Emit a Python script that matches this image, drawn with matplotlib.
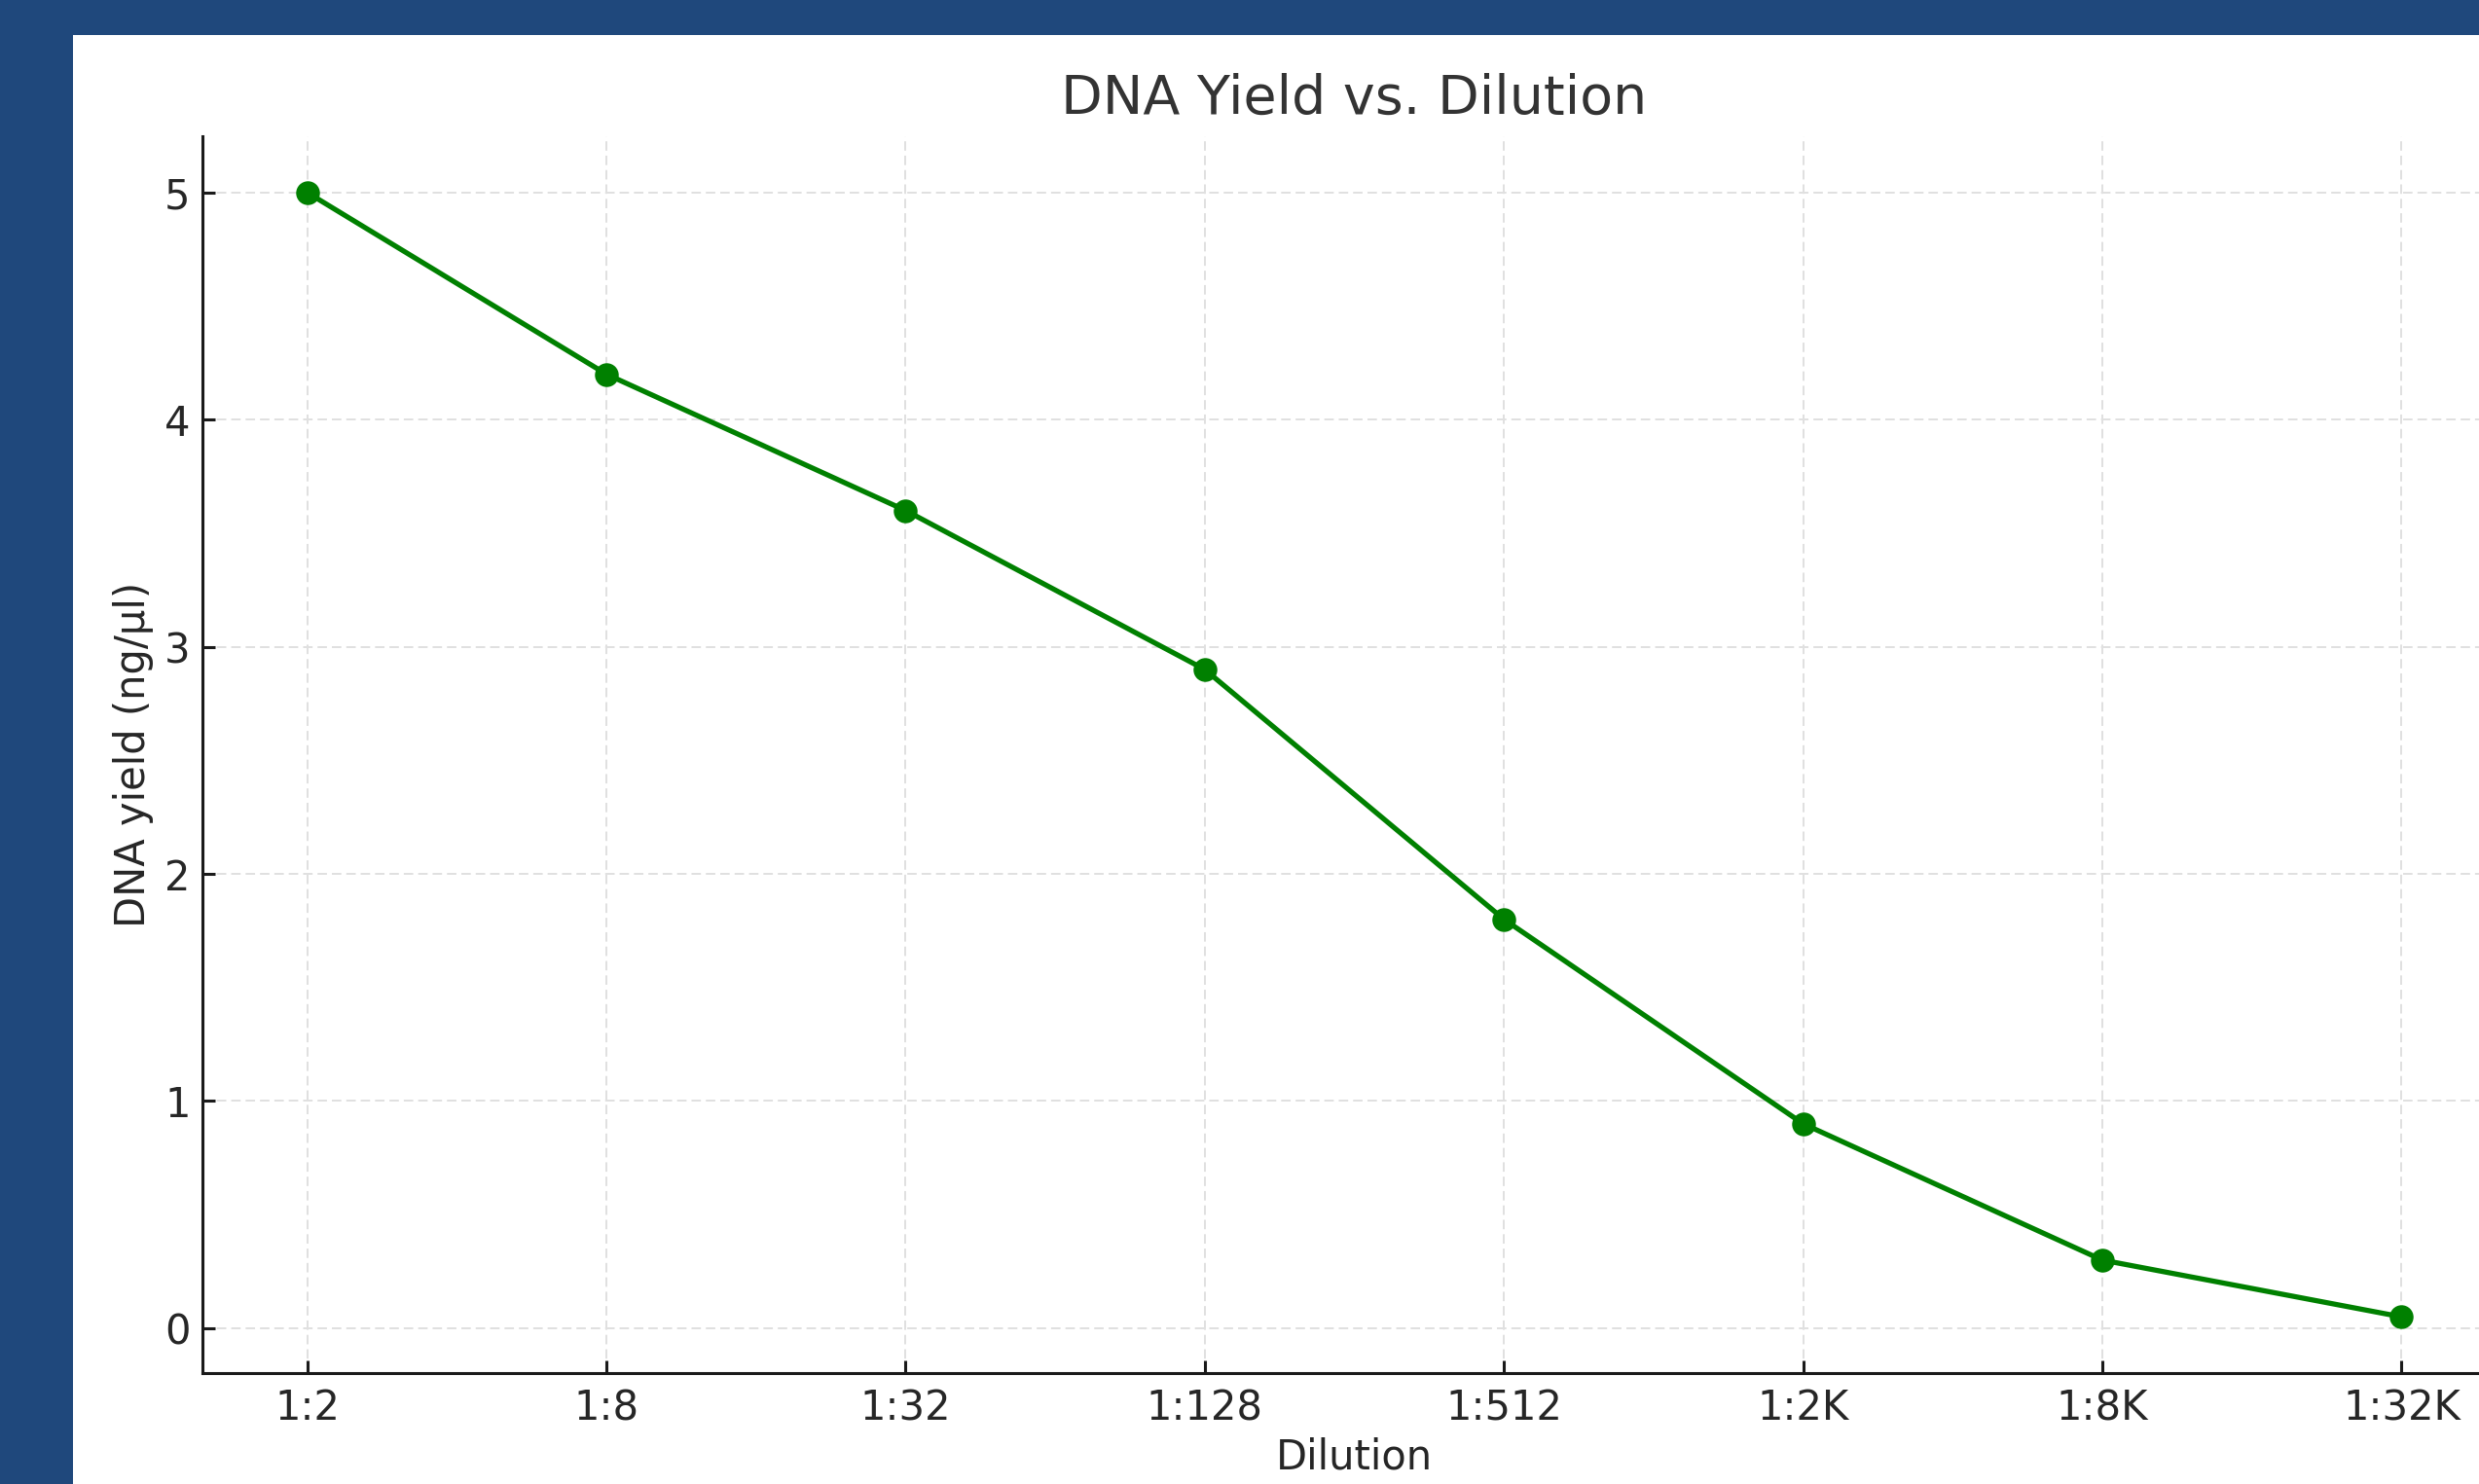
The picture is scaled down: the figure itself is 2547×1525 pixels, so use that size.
import matplotlib
matplotlib.use("Agg")
import matplotlib.pyplot as plt
from matplotlib.patches import Rectangle

dilutions = ["1:2", "1:8", "1:32", "1:128", "1:512", "1:2K", "1:8K", "1:32K"]
dna_yield = [5.0, 4.2, 3.6, 2.9, 1.8, 0.9, 0.3, 0.05]
y_ticks = [0, 1, 2, 3, 4, 5]

W, H, DPI = 2547, 1525, 200
fig = plt.figure(figsize=(W / DPI, H / DPI), dpi=DPI)
fig.patch.set_facecolor("#1F487C")
bg = Rectangle((75 / W, 0), 1 - 75 / W, (H - 36) / H,
               transform=fig.transFigure, facecolor="white",
               edgecolor="none", zorder=-10)
fig.add_artist(bg)

left, right, top, bottom = 208, 2575, 140, 1411
ax = fig.add_axes([left / W, (H - bottom) / H, (right - left) / W, (bottom - top) / H])
ax.set_zorder(1)
ax.set_facecolor("white")

x = list(range(len(dilutions)))
ax.plot(x, dna_yield, color="green", linewidth=1.9, marker="o", markersize=7.8, zorder=3)

ax.set_xticks(x)
ax.set_xticklabels(dilutions)
ax.set_yticks(y_ticks)

ax.grid(True, color="#e0e0e0", linestyle=(0, (5, 2.6)), linewidth=0.7, zorder=0)
ax.set_axisbelow(True)

for s in ["top", "right"]:
    ax.spines[s].set_visible(False)
for s in ["left", "bottom"]:
    ax.spines[s].set_linewidth(1.1)
    ax.spines[s].set_color("#1a1a1a")

ax.tick_params(direction="in", length=4.7, width=1.1, colors="#1a1a1a",
               labelsize=15, pad=5.5, labelcolor="#262626")
ax.tick_params(axis="y", pad=4.5)

ax.set_title("DNA Yield vs. Dilution", fontsize=20, color="#333333", pad=8.5)
ax.set_xlabel("Dilution", fontsize=15, color="#262626", labelpad=3)
ax.set_ylabel("DNA yield (ng/µl)", fontsize=15, color="#262626", labelpad=4)

fig.savefig("out.png", dpi=DPI, facecolor=fig.get_facecolor())
